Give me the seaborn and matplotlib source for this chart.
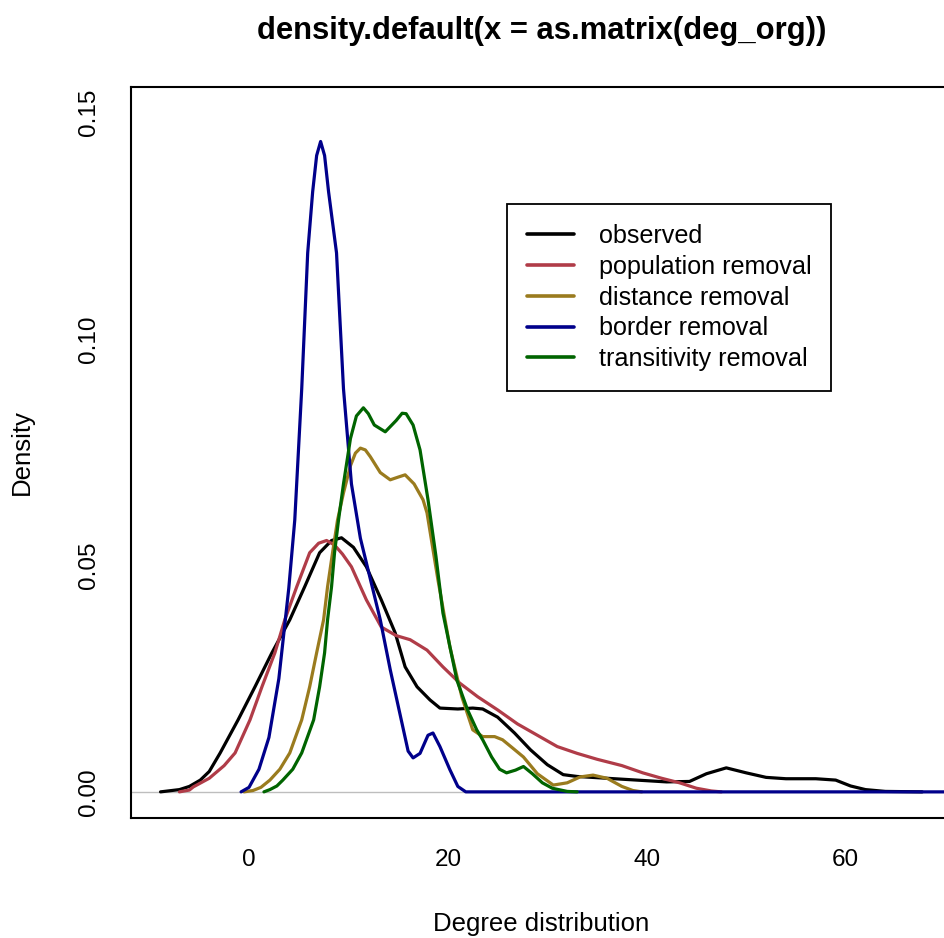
import matplotlib
matplotlib.use("Agg")
import matplotlib.pyplot as plt
import seaborn as sns
import pandas as pd

# ---- data ----
series_names = ["observed", "population removal", "distance removal",
                "border removal", "transitivity removal"]
series_colors = ["#000000", "#B03C48", "#9A7B1E", "#00008B", "#006400"]

obs_x = [-8.9, -7, -6, -4.9, -4, -2.9, -1.1, 0.6, 2.3, 4.1, 5.6, 7.1, 8.3, 9.3,
         10.5, 11.8, 13.3, 14.7, 15.7, 16.9, 18.2, 19.2, 21, 22.5, 23.5, 25,
         26.7, 28.3, 30, 31.6, 33, 36, 39, 42, 44.3, 46, 48, 50, 52, 54, 57,
         59, 60.5, 62, 64, 67.7]
obs_y = [0, 0.0005, 0.0012, 0.0026, 0.0045, 0.0086, 0.0159, 0.0232, 0.0307,
         0.038, 0.0453, 0.0528, 0.0555, 0.0561, 0.054, 0.0497, 0.0424, 0.0351,
         0.0276, 0.0232, 0.0203, 0.0185, 0.0183, 0.0185, 0.0183, 0.0165, 0.013,
         0.0093, 0.006, 0.0038, 0.0034, 0.0030, 0.0026, 0.0022, 0.0023, 0.0040,
         0.0053, 0.0042, 0.0032, 0.0029, 0.0029, 0.0026, 0.0013, 0.0005,
         0.0001, 0]

pop_x = [-7, -6, -5.6, -4, -2.5, -1.4, 0.1, 1.3, 2.6, 3.6, 4.8, 6.1, 7.0, 7.8,
         8.6, 9.4, 10.3, 11.8, 13.3, 14.8, 16.2, 17.9, 19.5, 21.2, 23, 25, 27,
         29, 31, 33, 35, 37.5, 39.6, 41.5, 43.3, 45, 46.5, 47.5]
pop_y = [0, 0.0004, 0.0011, 0.003, 0.0058, 0.0086, 0.0159, 0.0232, 0.0307,
         0.038, 0.0453, 0.0528, 0.0549, 0.0555, 0.0545, 0.0525, 0.0497, 0.0424,
         0.0364, 0.0345, 0.0336, 0.0313, 0.0276, 0.024, 0.021, 0.0181, 0.015,
         0.0125, 0.010, 0.0085, 0.0072, 0.0058, 0.0042, 0.0030, 0.002, 0.0008,
         0.0002, 0]

dist_x = [-0.5, 0.4, 1.2, 2.1, 3.1, 4.1, 5.3, 6.1, 6.8, 7.5, 7.9, 8.4, 8.9,
          9.5, 10.2, 10.7, 11.2, 11.7, 12.2, 13.2, 14.2, 15.0, 15.7, 16.6,
          17.5, 17.9, 19.0, 20.2, 21.4, 22.5, 23.5, 24.7, 25.5, 26.5, 27.6, 29,
          30.6, 32, 33.3, 34.6, 36, 37.5, 38.6, 39.5]
dist_y = [0, 0.0003, 0.0010, 0.0026, 0.005, 0.0086, 0.0159, 0.0232, 0.0307,
          0.038, 0.0453, 0.0528, 0.060, 0.066, 0.072, 0.0748, 0.0759, 0.0755,
          0.0740, 0.0705, 0.0689, 0.0695, 0.070, 0.068, 0.0645, 0.0616, 0.0468,
          0.032, 0.021, 0.0137, 0.0122, 0.0122, 0.0115, 0.0097, 0.0077, 0.0040,
          0.0015, 0.0020, 0.0033, 0.0037, 0.0030, 0.0012, 0.0003, 0]

bord_x = [-0.8, 0, 1, 2, 3, 4, 4.6, 5.3, 5.9, 6.4, 6.8, 7.2, 7.6, 8.0, 8.8,
          9.5, 10.3, 11.2, 12.2, 13.2, 14.2, 15.2, 16.0, 16.5, 17.2, 18.0,
          18.5, 19.2, 20.2, 21.0, 21.8, 75]
bord_y = [0, 0.001, 0.005, 0.012, 0.025, 0.045, 0.060, 0.089, 0.119, 0.1325,
          0.1405, 0.1436, 0.1405, 0.1325, 0.119, 0.089, 0.068, 0.056, 0.047,
          0.038, 0.027, 0.017, 0.009, 0.0075, 0.0085, 0.0125, 0.013, 0.010,
          0.0049, 0.0012, 0, 0]

trans_x = [1.5, 2.1, 2.8, 3.4, 4.4, 5.3, 6.5, 7.1, 7.6, 7.9, 8.3, 8.6, 9.0,
           9.5, 10.2, 10.8, 11.5, 12.0, 12.6, 13.7, 14.8, 15.4, 15.8, 16.5,
           17.2, 18.0, 18.8, 19.5, 20.9, 22.0, 22.9, 23.5, 24.4, 25.2, 25.9,
           26.8, 27.6, 28.5, 29.5, 30.5, 32, 33]
trans_y = [0, 0.0005, 0.0013, 0.0026, 0.005, 0.0086, 0.0159, 0.0232, 0.0307,
           0.038, 0.0453, 0.0528, 0.060, 0.068, 0.078, 0.083, 0.0848, 0.0835,
           0.081, 0.0795, 0.082, 0.0836, 0.0835, 0.081, 0.0755, 0.0645, 0.052,
           0.0395, 0.0247, 0.018, 0.0137, 0.0115, 0.0077, 0.0050, 0.0042,
           0.0048, 0.0056, 0.0040, 0.0020, 0.0008, 0.0001, 0]

x_ticks = [0, 20, 40, 60]
y_ticks = [0.00, 0.05, 0.10, 0.15]
y_tick_labels = ["0.00", "0.05", "0.10", "0.15"]

title_text = "density.default(x = as.matrix(deg_org))"
x_label = "Degree distribution"
y_label = "Density"

# ---- build a long table ----
frames = []
for name, xs, ys in zip(series_names,
                        [obs_x, pop_x, dist_x, bord_x, trans_x],
                        [obs_y, pop_y, dist_y, bord_y, trans_y]):
    frames.append(pd.DataFrame({"degree": xs, "density": ys, "series": name}))
df = pd.concat(frames, ignore_index=True)

# ---- style ----
sns.set_style("white")
plt.rcParams["font.family"] = ["Liberation Sans", "DejaVu Sans"]
plt.rcParams["text.color"] = "black"

W, H = 944, 938
fig = plt.figure(figsize=(W / 100, H / 100), dpi=100)
ax_left, ax_right, ax_top, ax_bottom = 130.7, 953.0, 86.7, 818.0
ax = fig.add_axes([ax_left / W, 1 - ax_bottom / H,
                   (ax_right - ax_left) / W, (ax_bottom - ax_top) / H])

ax.axhline(0, color="#BEBEBE", lw=1.0, zorder=1)

for name, col in zip(series_names, series_colors):
    sub = df[df["series"] == name]
    sns.lineplot(data=sub, x="degree", y="density", color=col, lw=2.3,
                 sort=False, estimator=None, ax=ax, label=name, zorder=3)

ax.set_xlim(-11.9, 70.8)
ax.set_ylim(-0.00577, 0.1557)
ax.set_xticks(x_ticks)
ax.set_xticklabels([str(t) for t in x_ticks])
ax.set_yticks(y_ticks)
ax.set_yticklabels(y_tick_labels, rotation=90, va="center")
ax.set_xlabel("")
ax.set_ylabel("")

for sp in ax.spines.values():
    sp.set_visible(True)
    sp.set_color("black")
    sp.set_linewidth(1.5)

ax.tick_params(axis="both", which="major", direction="out", length=12,
               width=1.4, color="black", labelsize=17.5, labelcolor="black")
ax.tick_params(axis="x", pad=10)
ax.tick_params(axis="y", pad=10)

leg = ax.legend(loc="upper left", bbox_to_anchor=(507 / W, 1 - 204 / H),
                bbox_transform=fig.transFigure, borderaxespad=0,
                fontsize=18.1, frameon=True, fancybox=False, shadow=False,
                framealpha=1, edgecolor="black", handlelength=1.85,
                handletextpad=1.0, labelspacing=0.27, borderpad=0.8)
leg.get_frame().set_linewidth(1.3)
for line in leg.get_lines():
    line.set_linewidth(2.6)
for t in leg.get_texts():
    t.set_color("black")

fig.text(542 / W, 1 - 31 / H, title_text, ha="center", va="center",
         fontsize=22.3, fontweight="bold", color="black")
fig.text(541 / W, 1 - 931 / H, x_label, ha="center", va="baseline",
         fontsize=18.5, color="black")
fig.text(22 / W, 1 - 452 / H, y_label, ha="center", va="center",
         rotation=90, fontsize=18.5, color="black")

fig.savefig("out.png", dpi=100)
